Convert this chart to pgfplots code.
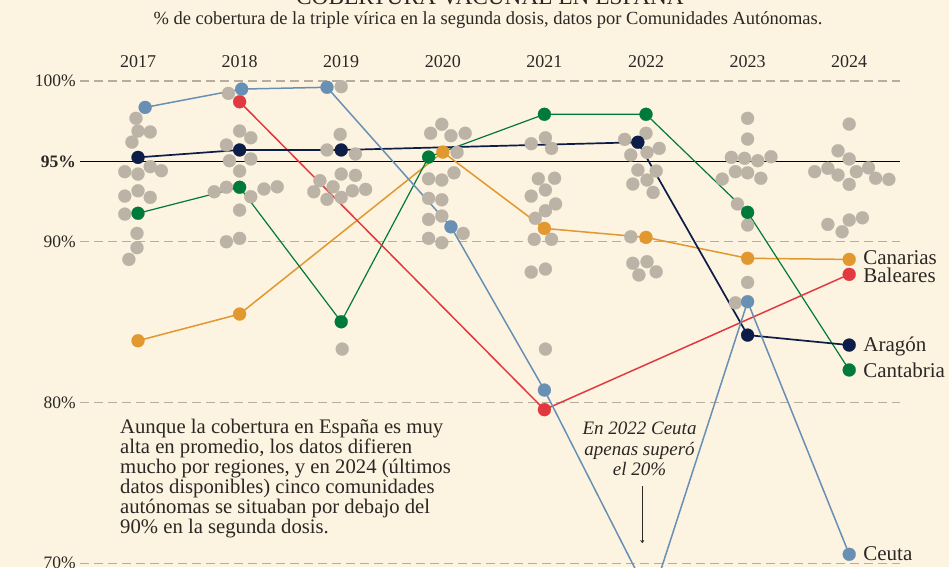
\documentclass[border=0pt]{standalone}
\usepackage{pgfplots}
\pgfplotsset{compat=1.18}
\usepackage{fontspec}
\setmainfont{Liberation Serif}
\usetikzlibrary{arrows.meta}
\definecolor{bg}{HTML}{FDF3E1}
\definecolor{dotg}{HTML}{BCB3A7}
\definecolor{gridc}{HTML}{B5AD9F}
\definecolor{txt}{HTML}{2B2724}
\definecolor{ceuta}{HTML}{6890B5}
\definecolor{baleares}{HTML}{E03A40}
\definecolor{aragon}{HTML}{0C1D48}
\definecolor{cantabria}{HTML}{007A3B}
\definecolor{canarias}{HTML}{E1982F}

\pgfplotstableread{
x y
2016.98 97.68
2017.00 96.89
2017.12 96.83
2016.94 96.20
2017.12 94.67
2017.23 94.42
2016.87 94.36
2017.00 94.21
2017.00 93.17
2016.87 92.84
2017.12 92.76
2016.87 91.72
2016.99 90.52
2016.99 89.63
2016.91 88.90
2017.89 99.23
2018.00 96.89
2018.11 96.47
2017.87 96.02
2017.90 95.04
2018.11 95.15
2018.00 94.40
2017.87 93.39
2017.75 93.11
2018.11 92.80
2018.24 93.28
2018.37 93.42
2018.00 91.97
2017.87 90.00
2018.00 90.21
2019.00 99.65
2018.99 96.68
2018.86 95.71
2019.14 95.46
2019.00 94.21
2019.14 94.13
2018.79 93.80
2018.92 93.42
2018.73 93.11
2019.11 93.17
2019.24 93.26
2018.86 92.64
2019.00 92.76
2019.01 83.32
2019.99 97.31
2019.88 96.75
2020.08 96.60
2020.22 96.75
2020.14 95.56
2020.11 94.29
2019.86 93.92
2019.99 93.84
2019.86 92.70
2019.99 92.61
2019.86 91.39
2019.99 91.60
2020.20 90.52
2019.86 90.21
2019.99 89.94
2021.01 96.47
2020.87 96.10
2021.07 95.81
2020.94 93.92
2021.10 93.95
2021.01 93.22
2020.87 92.84
2021.11 92.35
2021.01 91.93
2020.91 91.46
2020.90 90.15
2021.07 90.15
2020.87 88.11
2021.01 88.30
2021.01 83.32
2022.00 96.75
2021.79 96.37
2022.13 95.81
2022.01 95.56
2021.85 95.40
2021.92 94.46
2022.10 94.40
2022.01 93.84
2021.87 93.59
2022.07 93.07
2021.85 90.31
2021.87 88.66
2022.01 88.76
2021.93 87.93
2022.10 88.13
2023.00 97.68
2023.00 96.39
2022.84 95.25
2022.97 95.19
2023.10 95.04
2023.23 95.29
2022.88 94.36
2023.00 94.29
2023.13 93.95
2022.75 93.90
2022.90 92.35
2023.00 91.04
2023.00 87.47
2022.88 86.20
2024.00 97.32
2023.89 95.66
2024.00 95.15
2023.66 94.36
2023.79 94.57
2023.89 94.15
2024.07 94.36
2024.19 94.60
2024.00 93.57
2024.26 93.95
2024.39 93.88
2023.79 91.08
2023.93 90.62
2024.00 91.35
2024.13 91.49
}\graytable

\begin{document}
\begin{tikzpicture}[x=1pt,y=1pt]
\useasboundingbox (0,0) rectangle (949,567);
\clip (0,0) rectangle (949,567);
\fill[bg] (0,0) rectangle (949,567);
\node[anchor=base, text=txt, font=\fontsize{23.3}{26}\selectfont, inner sep=0pt] at (490,562.5) {COBERTURA VACUNAL EN ESPAÑA};
\node[anchor=base, text=txt, font=\fontsize{18.5}{22}\selectfont, inner sep=0pt] at (488,542) {\% de cobertura de la triple vírica en la segunda dosis, datos por Comunidades Autónomas.};
\begin{axis}[
  at={(80pt,0pt)}, anchor=south west, scale only axis,
  width=820pt, height=495.6pt,
  xmin=2016.429, xmax=2024.5, ymin=69.76, ymax=100.6,
  clip=false,
  axis line style={draw=none},
  major tick length=0pt,
  xtick={2017,2018,2019,2020,2021,2022,2023,2024},
  xticklabels={2017,2018,2019,2020,2021,2022,2023,2024},
  xticklabel pos=upper,
  xticklabel style={anchor=south, inner sep=0pt, yshift=3.1pt, font=\fontsize{18}{20}\selectfont, text=txt},
  ytick={70,80,90,100},
  yticklabels={70\%,80\%,90\%,100\%},
  yticklabel style={anchor=east, inner sep=0pt, xshift=-4pt, font=\fontsize{17.5}{20}\selectfont, text=txt},
  ymajorgrids,
  grid style={gridc, line width=1.2pt, dash pattern=on 9pt off 5pt},
  extra y ticks={95},
  extra y tick labels={\textbf{95\%}},
  extra y tick style={ymajorgrids=true, major grid style={black, solid, line width=1.5pt}},
  every axis plot/.append style={mark size=6.5pt},
]
\addplot[only marks, mark=*, mark options={draw=dotg, fill=dotg, line width=0.2pt}] table[x=x,y=y] {\graytable};

\addplot[canarias, line width=1.5pt, mark=*, mark options={solid, draw=canarias, fill=canarias, line width=0.2pt}] coordinates {
(2017,83.84) (2018,85.50) (2020,95.58) (2021,90.83) (2022,90.27) (2023,88.97) (2024,88.90)};
\addplot[cantabria, line width=1.2pt, mark=*, mark options={solid, draw=cantabria, fill=cantabria, line width=0.2pt}] coordinates {
(2017,91.77) (2018,93.39) (2019,85.02) (2019.86,95.27) (2021,97.93) (2022,97.93) (2023,91.83) (2024,82.02)};
\addplot[baleares, line width=1.5pt, mark=*, mark options={solid, draw=baleares, fill=baleares, line width=0.2pt}] coordinates {
(2018,98.71) (2021,79.55) (2024,87.97)};
\addplot[aragon, line width=1.7pt, mark=*, mark options={solid, draw=aragon, fill=aragon, line width=0.2pt}] coordinates {
(2017,95.25) (2018,95.71) (2019,95.71) (2021.92,96.19) (2023,84.19) (2024,83.57)};
\addplot[ceuta, line width=1.5pt, mark=*, mark options={solid, draw=ceuta, fill=ceuta, line width=0.2pt}] coordinates {
(2017.07,98.36) (2018.02,99.50) (2018.86,99.61) (2020.08,90.93) (2021,80.77) (2022.05,67.7) (2023,86.27) (2024,70.55)};

\begin{scope}[every node/.style={anchor=base west, xshift=14pt, text=txt, font=\fontsize{21}{24}\selectfont, inner sep=0pt}]
\node[yshift=-4.7pt] at (axis cs:2024,88.90) {Canarias};
\node[yshift=-8.5pt] at (axis cs:2024,87.97) {Baleares};
\node[yshift=-6.7pt] at (axis cs:2024,83.57) {Aragón};
\node[yshift=-8pt] at (axis cs:2024,82.02) {Cantabria};
\node[yshift=-5.7pt] at (axis cs:2024,70.55) {Ceuta};
\end{scope}
\end{axis}

\node[anchor=north west, align=left, inner sep=0pt, text=txt, font=\fontsize{20.7}{20}\selectfont] at (120,148) {Aunque la cobertura en España es muy\\alta en promedio, los datos difieren\\mucho por regiones, y en 2024 (últimos\\datos disponibles) cinco comunidades\\autónomas se situaban por debajo del\\90\% en la segunda dosis.};
\node[anchor=north, align=center, inner sep=0pt, text=txt, font=\fontsize{19}{20.5}\selectfont\itshape] at (639.5,145) {En 2022 Ceuta\\apenas superó\\el 20\%};
\draw[-{To[length=3pt,width=4pt]}, line width=0.7pt, txt] (642.3,81) -- (642.3,24);
\end{tikzpicture}
\end{document}
